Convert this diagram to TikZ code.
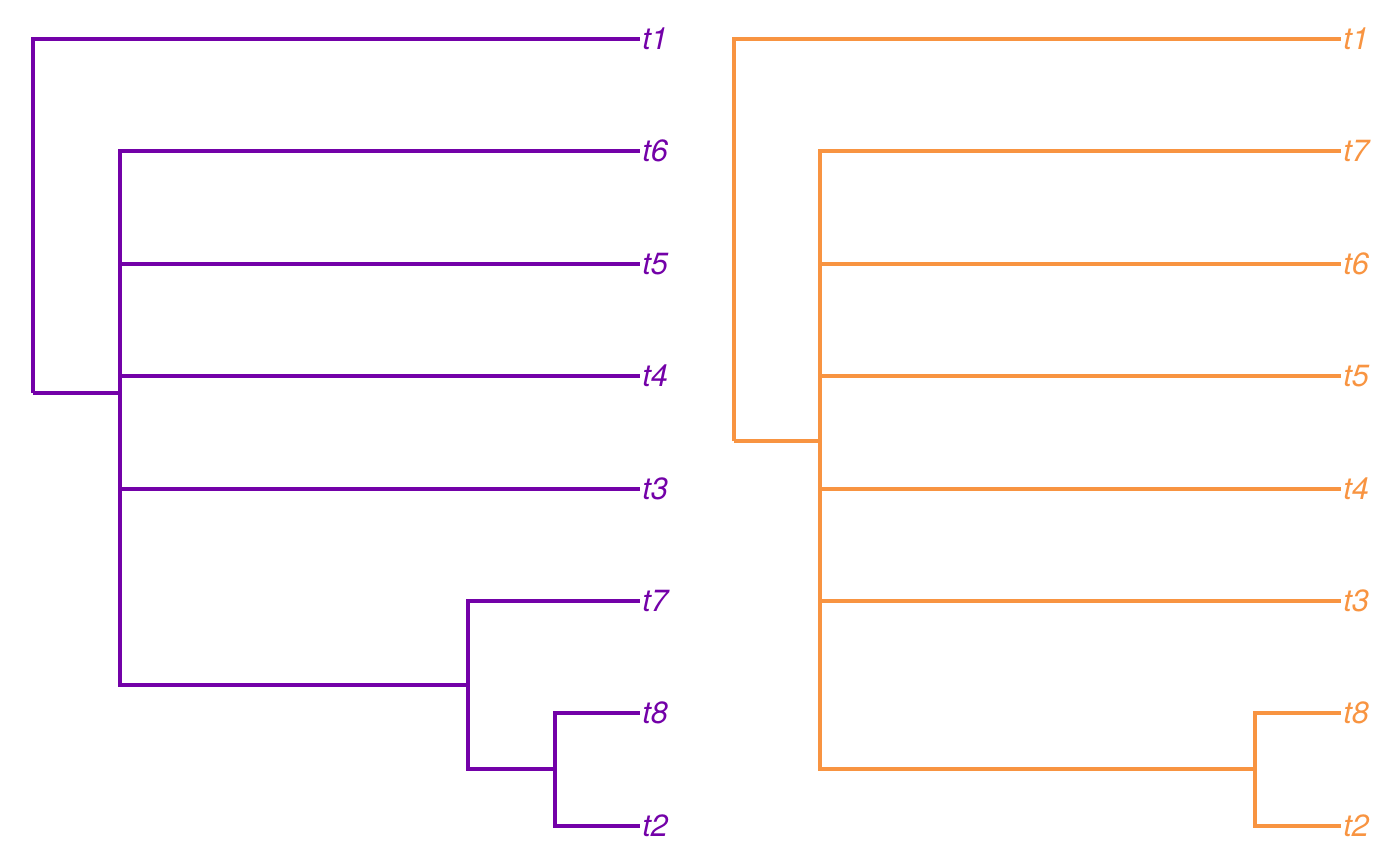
\documentclass[tikz,border=0pt]{standalone}
\usepackage{fontspec}
\setmainfont{TeX Gyre Heros}
\definecolor{treepurple}{HTML}{7301A8}
\definecolor{treeorange}{HTML}{F89441}

\begin{document}
\begin{tikzpicture}[x=0.75pt, y=-0.75pt,
  branch/.style = {line width=3pt},
  tip/.style = {anchor=west, inner sep=1.5pt, font=\fontsize{23}{28}\selectfont\itshape}]
\useasboundingbox (0,0) rectangle (1400,865);
% left tree
\begin{scope}[treepurple]
\coordinate (l0) at (33,393);
\coordinate (la) at (120,393);
\coordinate (lb) at (468,685);
\coordinate (lc) at (555,769);
\node[tip] (l1) at (640,39) {t1};
\node[tip] (l6) at (640,151) {t6};
\node[tip] (l5) at (640,264) {t5};
\node[tip] (l4) at (640,376) {t4};
\node[tip] (l3) at (640,489) {t3};
\node[tip] (l7) at (640,601) {t7};
\node[tip] (l8) at (640,713) {t8};
\node[tip] (l2) at (640,826) {t2};
\draw[branch] (l0) |- (l1.west);
\draw[branch] (l0) -- (la);
\draw[branch] (la) |- (l6.west);
\draw[branch] (la) |- (l5.west);
\draw[branch] (la) |- (l4.west);
\draw[branch] (la) |- (l3.west);
\draw[branch] (la) |- (lb);
\draw[branch] (lb) |- (l7.west);
\draw[branch] (lb) |- (lc);
\draw[branch] (lc) |- (l8.west);
\draw[branch] (lc) |- (l2.west);
\end{scope}
% right tree
\begin{scope}[treeorange]
\coordinate (r0) at (734,441);
\coordinate (ra) at (820,441);
\coordinate (rc) at (1255,769);
\node[tip] (r1) at (1341,39) {t1};
\node[tip] (r7) at (1341,151) {t7};
\node[tip] (r6) at (1341,264) {t6};
\node[tip] (r5) at (1341,376) {t5};
\node[tip] (r4) at (1341,489) {t4};
\node[tip] (r3) at (1341,601) {t3};
\node[tip] (r8) at (1341,713) {t8};
\node[tip] (r2) at (1341,826) {t2};
\draw[branch] (r0) |- (r1.west);
\draw[branch] (r0) -- (ra);
\draw[branch] (ra) |- (r7.west);
\draw[branch] (ra) |- (r6.west);
\draw[branch] (ra) |- (r5.west);
\draw[branch] (ra) |- (r4.west);
\draw[branch] (ra) |- (r3.west);
\draw[branch] (ra) |- (rc);
\draw[branch] (rc) |- (r8.west);
\draw[branch] (rc) |- (r2.west);
\end{scope}
\end{tikzpicture}
\end{document}
